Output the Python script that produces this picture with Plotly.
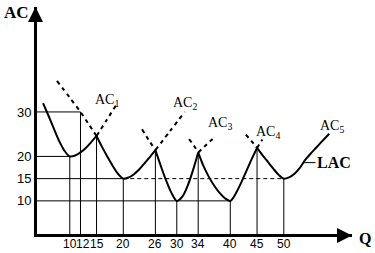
import plotly.graph_objects as go

# ---------------- data ----------------
# AC1 short-run average cost curve (solid part) and its dashed continuation
ac1_q = [5.0, 6.0, 7.0, 8.0, 9.0, 10, 11, 12, 13, 14, 15]
ac1_v = [32.0, 29.2, 26.3, 23.5, 21.3, 20, 20.2, 20.9, 21.9, 23.2, 24.6]
ac1_dash_q = [15, 16.8, 18.6]
ac1_dash_v = [24.6, 28.0, 31.4]

# AC2
ac2_dash_left_q = [7.6, 10, 12, 13.5, 15]
ac2_dash_left_v = [37.0, 33.2, 30, 27.3, 24.6]
ac2_q = [15, 16, 17, 18, 19, 20, 21, 22, 23, 24, 25, 26]
ac2_v = [24.6, 22.2, 20.0, 17.9, 16.1, 15, 15.25, 16.0, 17.1, 18.5, 19.9, 21.4]
ac2_dash_right_q = [26, 28.8, 31.5]
ac2_dash_right_v = [21.4, 25.8, 30.0]

# AC3
ac3_dash_left_q = [23.5, 24.7, 26]
ac3_dash_left_v = [26.1, 23.8, 21.4]
ac3_q = [26, 27, 28, 29, 30, 31, 32, 33, 34]
ac3_v = [21.4, 17.9, 14.6, 11.8, 10, 10.9, 13.3, 16.8, 20.9]
ac3_dash_right_q = [34, 35.6, 37.1]
ac3_dash_right_v = [20.9, 22.7, 24.4]

# AC4
ac4_dash_left_q = [32.3, 33.2, 34]
ac4_dash_left_v = [23.9, 22.4, 20.9]
ac4_q = [34, 35, 36, 37, 38, 39, 40, 41, 42, 43, 44, 45]
ac4_v = [20.9, 17.8, 15.4, 13.4, 11.8, 10.6, 10, 11.6, 14.0, 16.7, 19.4, 21.9]
ac4_dash_right_q = [45, 46.0]
ac4_dash_right_v = [21.9, 23.8]

# AC5
ac5_dash_left_q = [42.9, 44, 45]
ac5_dash_left_v = [24.9, 23.4, 21.9]
ac5_q = [45, 46, 47, 48, 49, 50, 51, 52, 53, 54, 55, 56, 57, 58.5]
ac5_v = [21.9, 20.3, 18.8, 17.3, 15.9, 15, 15.3, 16.1, 17.4, 19.2, 20.6, 21.9, 23.2, 25.1]

# guide lines
vguide_q = [10, 12, 15, 20, 26, 30, 34, 40, 45, 50]
vguide_top = [20, 30, 24.6, 15, 21.4, 10, 20.9, 10, 21.9, 15]
hguide_level = [30, 20, 15, 10]
hguide_end = [12, 10, 20, 40]
dashed_level = 15
dashed_from, dashed_to = 20, 50

# tick labels
x_ticks = [10, 12, 15, 20, 26, 30, 34, 40, 45, 50]
y_ticks = [10, 15, 20, 30]

# curve labels
curve_labels = ["AC<sub>1</sub>", "AC<sub>2</sub>", "AC<sub>3</sub>", "AC<sub>4</sub>", "AC<sub>5</sub>"]
label_q = [16.9, 31.5, 38.0, 47.1, 59.0]
label_v = [32.6, 31.9, 27.4, 25.4, 26.8]
lac_point = (53.6, 18.6)

# ---------------- style ----------------
Q_RANGE = [3.87, 62.75]
V_RANGE = [2.55, 53.6]
SERIF = "Liberation Serif"
SANS = "Liberation Sans"
label_xshift = {12: 3}

fig = go.Figure()

# vertical guides
gx, gy = [], []
for q, top in zip(vguide_q, vguide_top):
    gx += [q, q, None]
    gy += [V_RANGE[0], top, None]
# horizontal guides
for lev, end in zip(hguide_level, hguide_end):
    gx += [Q_RANGE[0], end, None]
    gy += [lev, lev, None]
fig.add_trace(go.Scatter(x=gx, y=gy, mode="lines", line=dict(color="black", width=1),
                         hoverinfo="skip", showlegend=False))
fig.add_trace(go.Scatter(x=[dashed_from, dashed_to], y=[dashed_level, dashed_level], mode="lines",
                         line=dict(color="black", width=1, dash="4px,3px"),
                         hoverinfo="skip", showlegend=False))


def curve(q, v, dashed=False):
    fig.add_trace(go.Scatter(
        x=q, y=v, mode="lines",
        line=dict(color="black", width=2, shape="spline", smoothing=0.9,
                  dash="4px,4px" if dashed else "solid"),
        hoverinfo="skip", showlegend=False))


curve(ac1_q, ac1_v)
curve(ac1_dash_q, ac1_dash_v, True)
curve(ac2_dash_left_q, ac2_dash_left_v, True)
curve(ac2_q, ac2_v)
curve(ac2_dash_right_q, ac2_dash_right_v, True)
curve(ac3_dash_left_q, ac3_dash_left_v, True)
curve(ac3_q, ac3_v)
curve(ac3_dash_right_q, ac3_dash_right_v, True)
curve(ac4_dash_left_q, ac4_dash_left_v, True)
curve(ac4_q, ac4_v)
curve(ac4_dash_right_q, ac4_dash_right_v, True)
curve(ac5_dash_left_q, ac5_dash_left_v, True)
curve(ac5_q, ac5_v)

annotations = []
for txt, q, v in zip(curve_labels, label_q, label_v):
    annotations.append(dict(x=q, y=v, xref="x", yref="y", text=txt, showarrow=False,
                            font=dict(family=SERIF, size=14, color="black")))
annotations.append(dict(x=lac_point[0], y=lac_point[1], xref="x", yref="y", text="<b>LAC</b>",
                        showarrow=True, arrowhead=0, arrowwidth=1, arrowcolor="black",
                        ax=31, ay=0, axref="pixel", ayref="pixel", standoff=0,
                        font=dict(family=SERIF, size=16, color="black")))
for q in x_ticks:
    annotations.append(dict(x=q, y=0, xref="x", yref="paper", text=str(q), showarrow=False,
                            yanchor="top", yshift=-1, xshift=label_xshift.get(q, 0),
                            font=dict(family=SANS, size=12, color="black")))
# axis names
annotations.append(dict(x=0, y=1, xref="paper", yref="paper", text="<b>AC</b>", showarrow=False,
                        xanchor="right", yanchor="middle", xshift=-6, yshift=-5,
                        font=dict(family=SERIF, size=17, color="black")))
annotations.append(dict(x=1, y=0, xref="paper", yref="paper", text="<b>Q</b>", showarrow=False,
                        xanchor="left", yanchor="middle", xshift=5, yshift=-4,
                        font=dict(family=SERIF, size=16, color="black")))
# arrow heads on the axes
annotations.append(dict(x=0, y=1, xref="paper", yref="paper", text="", showarrow=True,
                        ax=0, ay=24, axref="pixel", ayref="pixel", xshift=-1.5,
                        arrowhead=2, arrowsize=1, arrowwidth=3, arrowcolor="black"))
annotations.append(dict(x=1, y=0, xref="paper", yref="paper", text="", showarrow=True,
                        ax=-24, ay=0, axref="pixel", ayref="pixel", yshift=-1.5,
                        arrowhead=2, arrowsize=1, arrowwidth=3, arrowcolor="black"))

fig.update_layout(
    width=375, height=253,
    margin=dict(l=37, r=23, t=7, b=19),
    paper_bgcolor="white", plot_bgcolor="white",
    annotations=annotations,
    xaxis=dict(range=Q_RANGE, showline=True, linecolor="black", linewidth=3,
               showgrid=False, zeroline=False, showticklabels=False, ticks=""),
    yaxis=dict(range=V_RANGE, showline=True, linecolor="black", linewidth=3,
               showgrid=False, zeroline=False, ticks="",
               tickvals=y_ticks, ticktext=[str(t) for t in y_ticks],
               tickfont=dict(family=SANS, size=13, color="black")),
)

fig.write_html("out.html")
